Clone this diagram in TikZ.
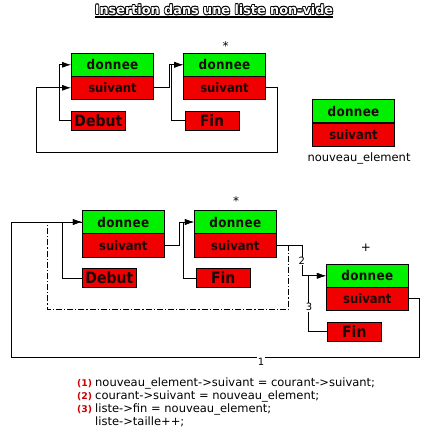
\documentclass[tikz,border=0pt]{standalone}
\usepackage{fontspec}
\setmainfont{DejaVu Sans}
\usetikzlibrary{arrows.meta}
\definecolor{boxgreen}{HTML}{00F000}
\definecolor{boxred}{HTML}{F00000}
\definecolor{labred}{HTML}{D00000}
\definecolor{boxtext}{HTML}{1A0A0A}
\newcommand\outlinedtext[1]{%
  \makebox[0pt][l]{\hspace{1.1pt}\raisebox{-1.1pt}{\textcolor{black!45}{#1}}}%
  \makebox[0pt][l]{\hspace{0.75pt}\textcolor{black}{#1}}%
  \makebox[0pt][l]{\hspace{-0.75pt}\textcolor{black}{#1}}%
  \makebox[0pt][l]{\raisebox{0.75pt}{\textcolor{black}{#1}}}%
  \makebox[0pt][l]{\raisebox{-0.75pt}{\textcolor{black}{#1}}}%
  \makebox[0pt][l]{\hspace{0.55pt}\raisebox{0.55pt}{\textcolor{black}{#1}}}%
  \makebox[0pt][l]{\hspace{-0.55pt}\raisebox{0.55pt}{\textcolor{black}{#1}}}%
  \makebox[0pt][l]{\hspace{0.55pt}\raisebox{-0.55pt}{\textcolor{black}{#1}}}%
  \makebox[0pt][l]{\hspace{-0.55pt}\raisebox{-0.55pt}{\textcolor{black}{#1}}}%
  \textcolor{white}{#1}}
\newcommand\tallbox[1]{\scalebox{1}[1.12]{#1}}
\begin{document}
\begin{tikzpicture}[x=1pt,y=-1pt,
  cell/.style={draw=black, line width=0.8pt, minimum width=82pt, minimum height=23pt,
    inner sep=0pt, text=boxtext},
  don/.style={cell, fill=boxgreen, font=\bfseries\fontsize{12}{12}\selectfont\addfontfeatures{LetterSpace=2.5}},
  sui/.style={cell, fill=boxred, font=\bfseries\fontsize{11.6}{12}\selectfont},
  ptrbox/.style={draw=black, line width=0.8pt, fill=boxred, minimum width=54pt,
    minimum height=19pt, inner sep=0pt, text=boxtext, font=\bfseries\fontsize{14}{14}\selectfont},
  arr/.style={line width=0.8pt, -{Latex[length=9pt,width=6pt]}},
  oldlink/.style={line width=0.8pt, dash pattern=on 6pt off 2pt on 1.2pt off 2pt},
  num/.style={font=\fontsize{10}{10}\selectfont, fill=white, inner sep=0.6pt},
  marktext/.style={font=\fontsize{12}{12}\selectfont, inner sep=0pt},
  code/.style={font=\fontsize{11.5}{12}\selectfont, inner sep=0pt, anchor=base west},
  codenum/.style={font=\bfseries\fontsize{9.3}{10}\selectfont, text=labred, inner sep=0pt, anchor=base east}
]
\useasboundingbox (0,0) rectangle (431,438);

% title
\node[inner sep=0pt, anchor=base, font=\bfseries\fontsize{12.8}{13}\selectfont] (title) at (214,14.5)
  {\outlinedtext{Insertion dans une liste non-vide}};
\draw[line width=1.3pt] ([yshift=-2.6pt]title.base west) -- ([yshift=-2.6pt]title.base east);

% ---------- top: before insertion ----------
\node[don] (d1) at (112.5,64.8) {\tallbox{donnee}};
\node[sui] (s1) at (112.5,87.8) {\tallbox{suivant}};
\node[don] (d2) at (224.5,64.8) {\tallbox{donnee}};
\node[sui] (s2) at (224.5,87.8) {\tallbox{suivant}};
\node[ptrbox] (deb1) at (98.3,120.8) {\tallbox{Debut}};
\node[ptrbox] (fin1) at (212,120.8) {\tallbox{Fin}};
\node[marktext] (star1) at (225.7,45.7) {*};
\node[don] (dn) at (353.5,111.3) {\tallbox{donnee}};
\node[sui] (sn) at (353.5,134.6) {\tallbox{suivant}};
\node[font=\fontsize{11.5}{12}\selectfont, inner sep=0pt] (lbln) at (359,158.7) {nouveau\_element};

\coordinate (loop1) at (36.3,152.3);
\draw[arr] (deb1.west) -- ++(-12,0) |- (d1.west);
\draw[arr] (s2.east) -- ++(11.6,0) |- (loop1) |- (s1.west);
\draw[arr] (s1.east) -- ++(15,0) |- (d2.west);
\draw[arr] (fin1.west) -- ++(-13,0) |- (d2.west);

% ---------- bottom: after insertion ----------
\node[don, minimum height=23.3pt] (dA) at (123.3,222) {\tallbox{donnee}};
\node[sui, minimum height=23.3pt] (sA) at (123.3,245.3) {\tallbox{suivant}};
\node[don, minimum height=23.3pt] (dB) at (235.3,222) {\tallbox{donnee}};
\node[sui, minimum height=23.3pt] (sB) at (235.3,245.3) {\tallbox{suivant}};
\node[don, minimum height=23pt] (dC) at (367.3,275.8) {\tallbox{donnee}};
\node[sui, minimum height=23pt] (sC) at (367.3,298.8) {\tallbox{suivant}};
\node[ptrbox] (debA) at (109.3,278) {\tallbox{Debut}};
\node[ptrbox] (finB) at (223.2,278) {\tallbox{Fin}};
\node[ptrbox] (finC) at (354.3,331.8) {\tallbox{Fin}};
\node[marktext] (star2) at (236,201) {*};
\node[marktext] (plusC) at (366,247.3) {+};

\coordinate (loop2) at (11.7,357);
\coordinate (old2) at (47.3,309);
\draw[oldlink] (sB.east) -- ++(12,0) |- (old2) |- (dA.west);
\draw[arr] (sC.east) -- ++(10.7,0) |- (loop2) |- (dA.west);
\draw[arr] (debA.west) -- ++(-20,0) |- (dA.west);
\draw[arr] (sA.east) -- ++(14.7,0) |- (dB.west);
\draw[arr] (finB.west) -- ++(-12.6,0) |- (dB.west);
\draw[arr] (sB.east) -- ++(25.4,0) |- (dC.west);
\draw[arr] (finC.west) -- ++(-18.7,0) |- (dC.west);
\node[num] (n1) at (261,361.5) {1};
\node[num] (n2) at (301.7,261) {2};
\node[num] (n3) at (309,307.3) {3};

% ---------- code ----------
\node[codenum] (c1n) at (92.3,386) {(1)};
\node[code] (c1) at (95,386) {nouveau\_element->suivant = courant->suivant;};
\node[codenum] (c2n) at (92.3,399) {(2)};
\node[code] (c2) at (95,399) {courant->suivant = nouveau\_element;};
\node[codenum] (c3n) at (92.3,412) {(3)};
\node[code] (c3) at (95,412) {liste->fin = nouveau\_element;};
\node[code] (c4) at (95,425) {liste->taille++;};
\end{tikzpicture}
\end{document}
